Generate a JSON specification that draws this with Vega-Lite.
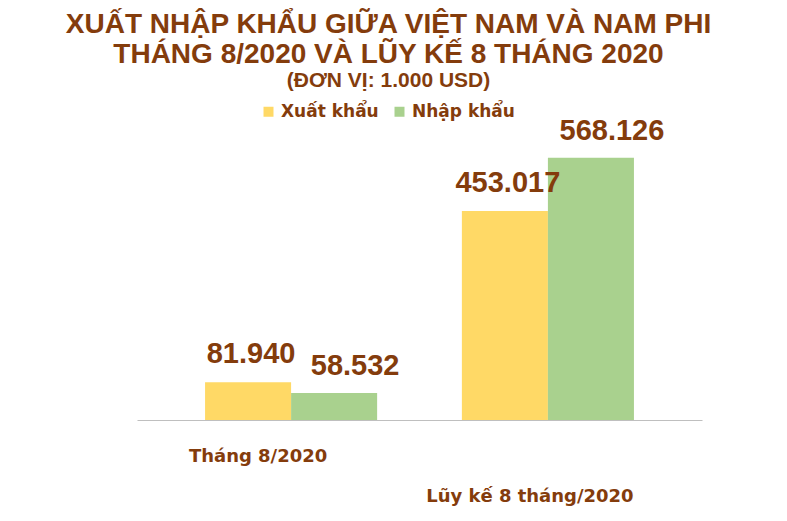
{
  "$schema": "https://vega.github.io/schema/vega-lite/v6.json",
  "width": 565,
  "height": 270,
  "autosize": {"type": "none"},
  "padding": {"left": 137, "top": 150, "right": 85, "bottom": 101},
  "background": "white",
  "config": {
    "view": {"stroke": null},
    "locale": {"number": {"decimal": ",", "thousands": ".", "grouping": [3], "currency": ["", " USD"]}},
    "font": "Liberation Sans"
  },
  "title": {
    "text": ["XUẤT NHẬP KHẨU GIỮA VIỆT NAM VÀ NAM PHI", "THÁNG 8/2020 VÀ LŨY KẾ 8 THÁNG 2020"],
    "subtitle": "(ĐƠN VỊ: 1.000 USD)",
    "anchor": "middle",
    "dx": -31,
    "font": "Liberation Sans",
    "fontSize": 28,
    "fontWeight": "bold",
    "lineHeight": 30,
    "color": "#843C0C",
    "subtitleFont": "Liberation Sans",
    "subtitleFontSize": 21,
    "subtitleFontWeight": "bold",
    "subtitleColor": "#843C0C",
    "subtitlePadding": 1,
    "offset": 12
  },
  "data": {
    "values": [
      {"ky": "Tháng 8/2020", "loai": "Xuất khẩu", "giatri": 81940},
      {"ky": "Tháng 8/2020", "loai": "Nhập khẩu", "giatri": 58532},
      {"ky": "Lũy kế 8 tháng/2020", "loai": "Xuất khẩu", "giatri": 453017},
      {"ky": "Lũy kế 8 tháng/2020", "loai": "Nhập khẩu", "giatri": 568126}
    ]
  },
  "encoding": {
    "x": {
      "field": "ky",
      "type": "nominal",
      "sort": ["Tháng 8/2020", "Lũy kế 8 tháng/2020"],
      "scale": {"paddingInner": 0.33, "paddingOuter": 0.265},
      "axis": {
        "title": null,
        "labelAngle": 0,
        "ticks": false,
        "labelLimit": 0,
        "domainColor": "#BFBFBF",
        "labelFont": "DejaVu Sans",
        "labelFontSize": 18,
        "labelFontWeight": "bold",
        "labelColor": "#843C0C",
        "labelPadding": {"condition": {"test": "datum.value === 'Lũy kế 8 tháng/2020'", "value": 67}, "value": 27},
        "labelOffset": {"condition": {"test": "datum.value === 'Lũy kế 8 tháng/2020'", "value": -18}, "value": -33}
      }
    },
    "xOffset": {"field": "loai", "sort": ["Xuất khẩu", "Nhập khẩu"], "scale": {"paddingInner": 0}},
    "y": {"field": "giatri", "type": "quantitative", "scale": {"domain": [0, 585000]}, "axis": null}
  },
  "layer": [
    {
      "mark": {"type": "bar"},
      "encoding": {
        "color": {
          "field": "loai",
          "type": "nominal",
          "sort": ["Xuất khẩu", "Nhập khẩu"],
          "scale": {"domain": ["Xuất khẩu", "Nhập khẩu"], "range": ["#FFD966", "#A9D18E"]},
          "legend": {
            "title": null,
            "orient": "none",
            "direction": "horizontal",
            "legendX": 123,
            "legendY": -47,
            "symbolType": "square",
            "symbolSize": 100,
            "symbolStrokeWidth": 0,
            "labelFont": "DejaVu Sans",
            "labelFontSize": 17,
            "labelFontWeight": "bold",
            "labelColor": "#843C0C",
            "columnPadding": 12
          }
        }
      }
    },
    {
      "transform": [{"filter": "datum.loai === 'Xuất khẩu'"}],
      "mark": {"type": "text", "baseline": "bottom", "dy": -13, "dx": 3, "font": "Liberation Sans", "fontSize": 29, "fontWeight": "bold", "color": "#843C0C"},
      "encoding": {
        "text": {"field": "giatri", "type": "quantitative", "format": ",d"}
      }
    },
    {
      "transform": [{"filter": "datum.loai === 'Nhập khẩu'"}],
      "mark": {"type": "text", "baseline": "bottom", "dy": -12, "dx": 21, "font": "Liberation Sans", "fontSize": 29, "fontWeight": "bold", "color": "#843C0C"},
      "encoding": {
        "text": {"field": "giatri", "type": "quantitative", "format": ",d"}
      }
    }
  ]
}
